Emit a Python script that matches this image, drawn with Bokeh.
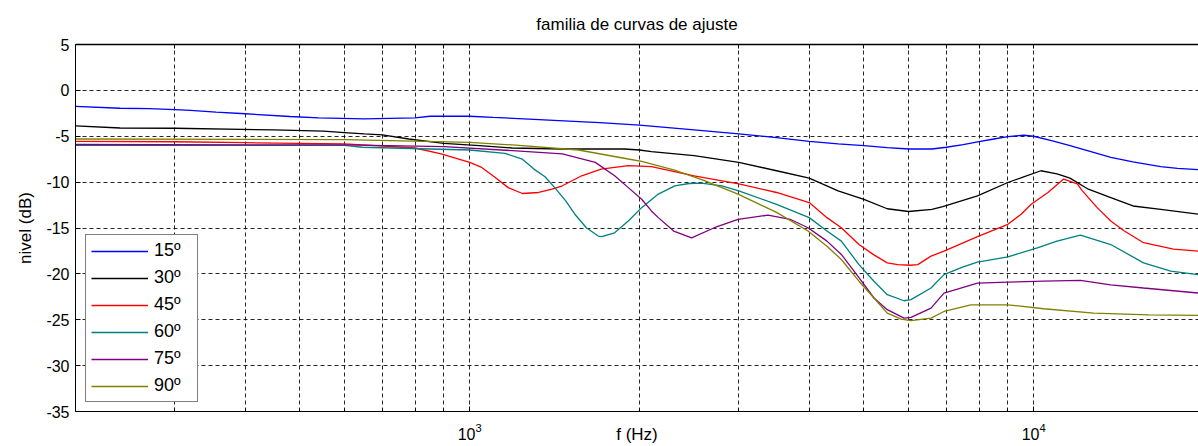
from bokeh.plotting import figure
from bokeh.models import FixedTicker, LogAxis, Range1d, Legend, LegendItem
from bokeh.embed import file_html
from bokeh.resources import INLINE

# ---- data ----
f15 = [200, 240, 270, 300, 320, 355, 400, 480, 540, 650, 800, 850, 1000, 1100, 1300, 1500, 1700, 2000,
       2500, 3000, 3500, 4000, 4500, 5000, 5500, 6000, 6600, 7000, 7500, 8000, 8500, 9000, 9600, 10000,
       10800, 11600, 12500, 13700, 15000, 16800, 18000, 19600]
db15 = [-1.75, -1.95, -2.0, -2.1, -2.19, -2.37, -2.55, -2.85, -3.0, -3.1, -3.0, -2.82, -2.82, -2.95, -3.15,
        -3.35, -3.52, -3.78, -4.3, -4.75, -5.15, -5.55, -5.84, -6.02, -6.25, -6.39, -6.39, -6.2, -5.91, -5.59,
        -5.3, -5.04, -4.89, -5.0, -5.5, -6.02, -6.6, -7.3, -7.8, -8.32, -8.5, -8.65]

f30 = [200, 240, 300, 450, 550, 600, 650, 700, 780, 900, 1040, 1190, 1460, 1880, 2000, 2100, 2500, 3000,
       3500, 4000, 4500, 5000, 5500, 6000, 6600, 6900, 7950, 9000, 9600, 10300, 11000, 11600, 12500, 13700,
       15000, 16800, 19600]
db30 = [-3.88, -4.1, -4.13, -4.31, -4.45, -4.6, -4.75, -4.86, -5.3, -5.77, -6.02, -6.28, -6.39, -6.39, -6.5,
        -6.68, -7.12, -7.85, -8.76, -9.56, -10.95, -11.87, -12.9, -13.2, -12.96, -12.67, -11.5, -10.04, -9.42,
        -8.76, -9.1, -9.56, -10.77, -11.68, -12.6, -12.96, -13.5]

f45 = [200, 300, 400, 600, 645, 800, 890, 1000, 1050, 1110, 1170, 1240, 1325, 1400, 1460, 1580, 1710, 1910,
       2100, 2500, 3000, 3500, 4000, 4300, 4560, 4900, 5200, 5500, 5740, 6050, 6230, 6576, 6934, 7950, 9000,
       9500, 9900, 10600, 11300, 11950, 12200, 12960, 13700, 14460, 15660, 17700, 19600]
db45 = [-5.55, -5.6, -5.7, -5.84, -5.95, -6.28, -6.93, -7.85, -8.4, -9.49, -10.6, -11.24, -11.13, -10.77,
        -10.4, -9.31, -8.58, -8.2, -8.32, -9.31, -10.2, -11.13, -12.23, -13.87, -14.97, -16.8, -17.9, -18.8,
        -18.99, -19.06, -18.99, -18.07, -17.52, -15.95, -14.6, -13.5, -12.42, -11.13, -9.67, -10.2, -10.95,
        -12.78, -14.24, -15.3, -16.6, -17.3, -17.52]

f60 = [200, 600, 645, 1000, 1155, 1240, 1300, 1360, 1415, 1480, 1536, 1610, 1690, 1714, 1807, 1911, 2018,
       2160, 2310, 2450, 2576, 2800, 3000, 3500, 4000, 4300, 4560, 4900, 5210, 5500, 5890, 6060, 6576, 6934,
       7500, 7950, 9000, 10150, 11000, 12100, 13700, 15660, 17500, 19600]
db60 = [-6.0, -6.0, -6.2, -6.5, -6.86, -7.5, -8.58, -9.42, -10.6, -12.05, -13.5, -14.97, -15.88, -15.95,
        -15.52, -14.24, -12.78, -11.3, -10.4, -10.15, -10.1, -10.4, -10.95, -12.42, -13.87, -15.33, -16.43,
        -18.99, -20.8, -22.27, -22.93, -22.8, -21.54, -20.08, -19.24, -18.73, -18.15, -17.16, -16.43, -15.77,
        -16.8, -18.8, -19.7, -20.08]

f75 = [200, 600, 900, 1190, 1460, 1670, 1807, 1911, 2018, 2100, 2160, 2300, 2474, 2715, 2991, 3381, 3700,
       3980, 4300, 4560, 4900, 5210, 5500, 5890, 6060, 6576, 6934, 7950, 9000, 10420, 12100, 13700, 15660,
       19600]
db75 = [-5.9, -5.95, -6.13, -6.57, -6.93, -7.85, -9.3, -10.6, -11.87, -13.14, -13.87, -15.33, -16.07, -14.97,
        -14.05, -13.6, -14.05, -14.97, -16.43, -17.88, -20.4, -22.63, -23.9, -24.82, -24.75, -23.73, -22.09,
        -21.0, -20.9, -20.8, -20.7, -21.2, -21.54, -22.09]

f90 = [200, 600, 1000, 1190, 1560, 1910, 2018, 2308, 2600, 2991, 3500, 3980, 4300, 4560, 4900, 5210, 5500,
       5820, 6062, 6576, 6934, 7740, 9000, 10420, 12780, 16000, 19600]
db90 = [-5.3, -5.37, -5.66, -5.95, -6.5, -7.48, -7.74, -8.69, -9.8, -11.3, -13.3, -15.33, -16.98, -18.43,
        -20.8, -22.63, -24.28, -24.93, -25.1, -24.82, -24.1, -23.37, -23.37, -23.8, -24.28, -24.46, -24.53]

series_labels = ["15º", "30º", "45º", "60º", "75º", "90º"]
series_colors = ["#0000FF", "#000000", "#FF0000", "#008080", "#800080", "#808000"]
series_f = [f15, f30, f45, f60, f75, f90]
series_db = [db15, db30, db45, db60, db75, db90]

y_ticks = [-35, -30, -25, -20, -15, -10, -5, 0, 5]
x_major = [1000, 10000]
x_minor = [200, 300, 400, 500, 600, 700, 800, 900, 2000, 3000, 4000, 5000, 6000, 7000, 8000, 9000, 20000]

FONT = "Liberation Sans"

p = figure(width=1198, height=446, x_axis_type="log",
           x_range=Range1d(200, 19600), y_range=Range1d(-35, 5),
           output_backend="svg", toolbar_location=None,
           min_border_left=75, min_border_right=0, min_border_top=44, min_border_bottom=35,
           title="familia de curvas de ajuste")
p.outline_line_color = None
p.title.align = "center"
p.title.text_font = FONT
p.title.text_font_size = "17px"
p.title.text_font_style = "normal"
p.title.text_color = "#000000"
p.title.standoff = 21

xt = FixedTicker(ticks=x_major, minor_ticks=x_minor)
yt = FixedTicker(ticks=y_ticks)

for ax in [p.xaxis[0], p.yaxis[0]]:
    ax.major_tick_in = 5
    ax.major_tick_out = 0
    ax.minor_tick_in = 3
    ax.minor_tick_out = 0
    ax.axis_line_color = "#000000"
    ax.major_tick_line_color = "#000000"
    ax.minor_tick_line_color = "#000000"
    ax.major_label_text_font = FONT
    ax.major_label_text_font_size = "16px"
    ax.major_label_text_color = "#000000"
    ax.axis_label_text_font = FONT
    ax.axis_label_text_font_size = "17px"
    ax.axis_label_text_font_style = "normal"
    ax.axis_label_text_color = "#000000"

p.xaxis[0].ticker = xt
p.yaxis[0].ticker = yt
p.yaxis[0].major_label_overrides = {t: str(t) for t in y_ticks}
p.yaxis[0].minor_tick_line_color = None
p.xaxis[0].axis_label = "f (Hz)"
p.xaxis[0].axis_label_standoff = -18
p.xaxis[0].major_label_standoff = 11
p.yaxis[0].axis_label = "nivel (dB)"
p.yaxis[0].axis_label_standoff = 8
p.yaxis[0].major_label_standoff = 6

top_ticker = FixedTicker(ticks=[], minor_ticks=sorted(x_major + x_minor))
top = LogAxis(ticker=top_ticker, major_tick_in=0, major_tick_out=0, minor_tick_in=4, minor_tick_out=0,
              axis_line_color="#000000", axis_line_width=1.5, minor_tick_line_color="#000000")
p.add_layout(top, "above")

for g in [p.xgrid[0], p.ygrid[0]]:
    g.grid_line_color = "#000000"
    g.grid_line_dash = "4 3"
    g.grid_line_alpha = 0.85
p.xgrid[0].ticker = xt
p.ygrid[0].ticker = yt
p.xgrid[0].minor_grid_line_color = "#000000"
p.xgrid[0].minor_grid_line_dash = "4 3"
p.xgrid[0].minor_grid_line_alpha = 0.85

items = []
for lab, col, fx, dy in zip(series_labels, series_colors, series_f, series_db):
    r = p.line(fx, dy, line_color=col, line_width=1.3)
    items.append(LegendItem(label=lab, renderers=[r]))

leg = Legend(items=items, location=(10, 9), orientation="vertical",
             border_line_color="#000000", border_line_width=1, background_fill_color="#FFFFFF",
             background_fill_alpha=1.0, padding=5, margin=0, spacing=6,
             glyph_width=57, glyph_height=18, label_height=18, label_width=38, label_standoff=6,
             label_text_font=FONT, label_text_font_size="18px",
             label_text_color="#000000")
p.add_layout(leg, "center")

open("out.html", "w").write(file_html(p, INLINE))
